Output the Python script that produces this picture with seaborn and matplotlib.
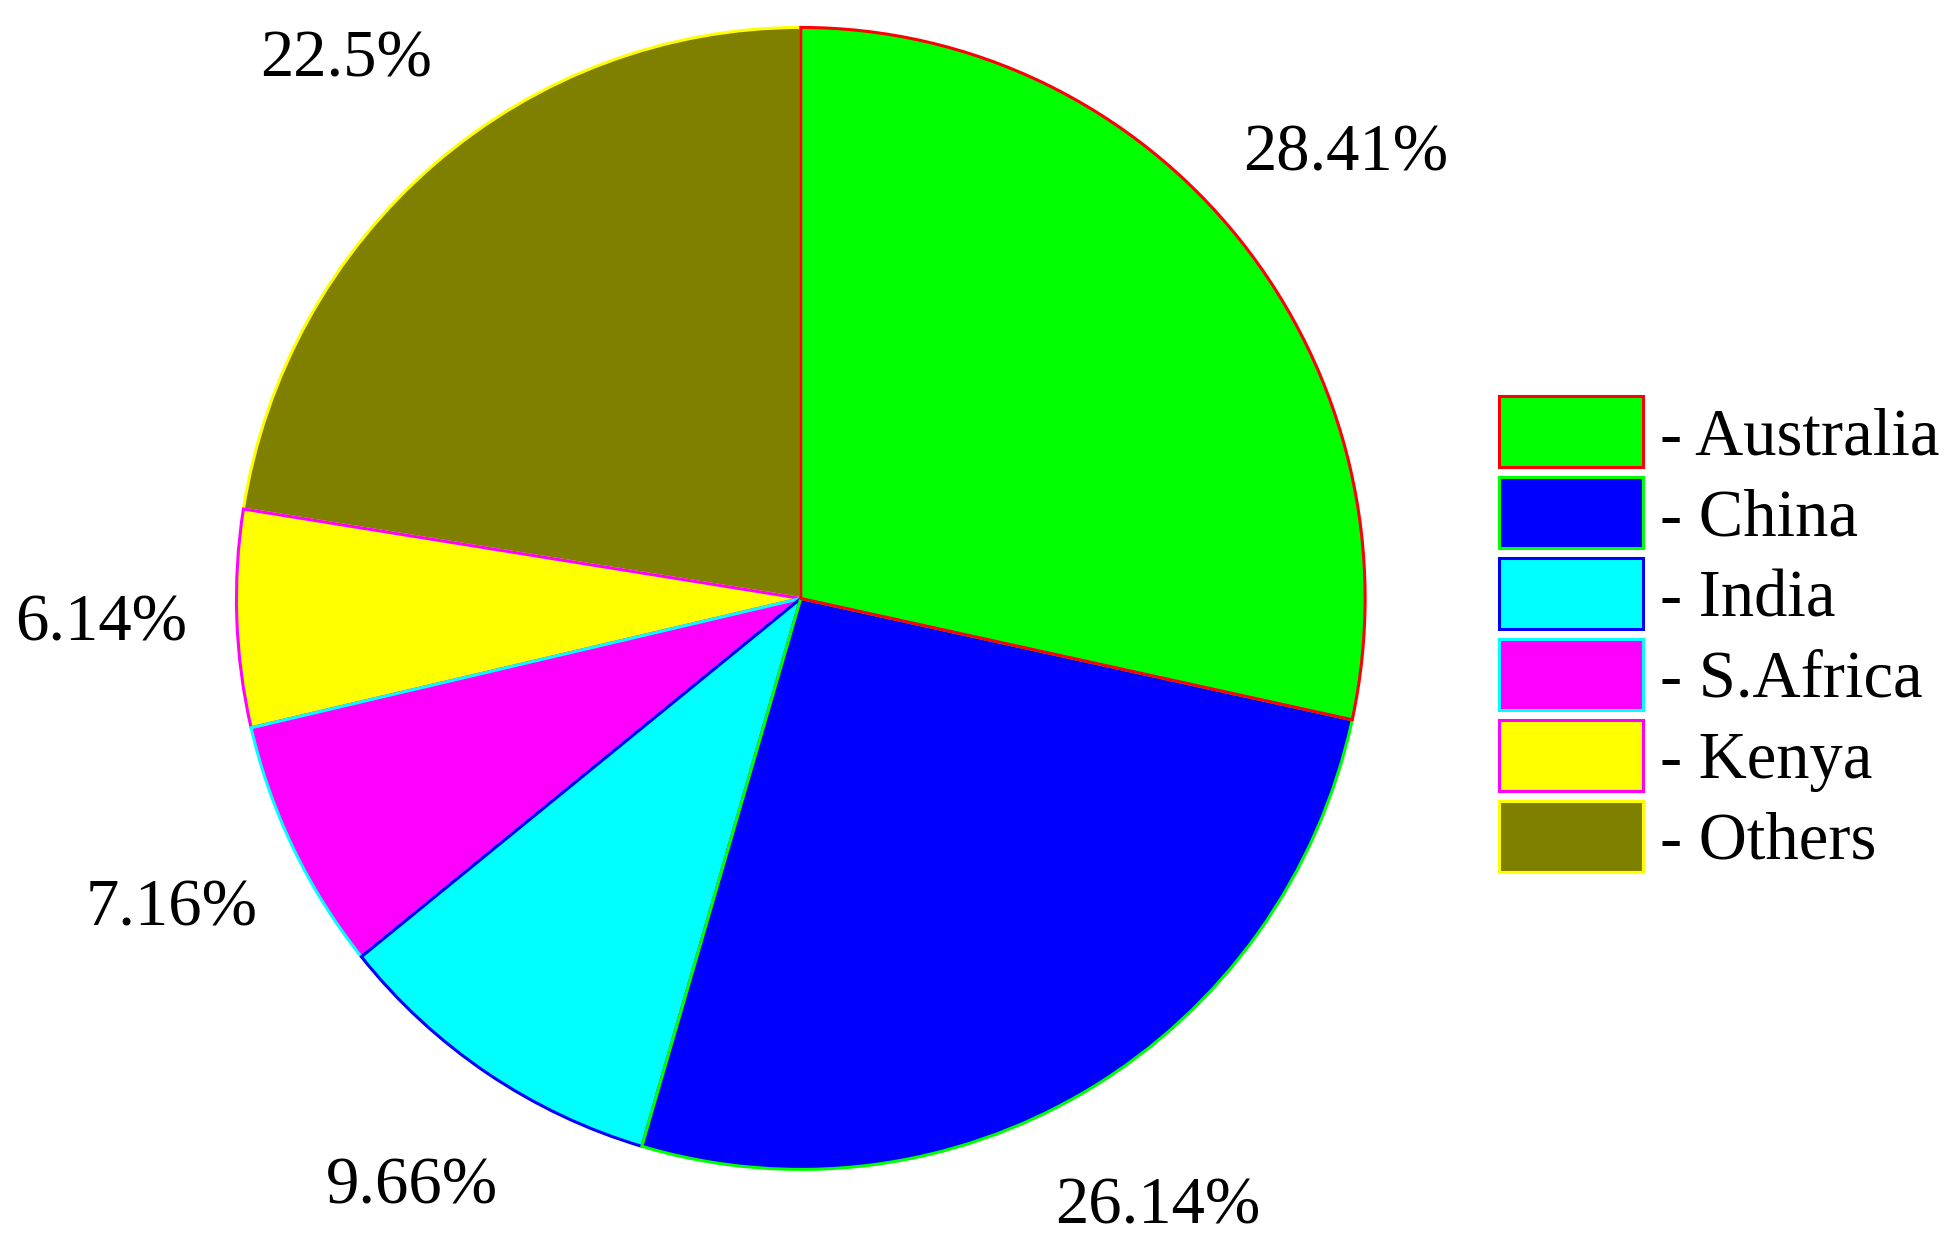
import matplotlib
matplotlib.use("Agg")
import matplotlib.pyplot as plt
import seaborn as sns

countries = ['Australia', 'China', 'India', 'S.Africa', 'Kenya', 'Others']
shares = [28.41, 26.14, 9.66, 7.16, 6.14, 22.5]
face_cols = ['#00ff00', '#0000ff', '#00ffff', '#ff00ff', '#ffff00', '#808000']
edge_cols = ['#ff0000', '#00ff00', '#0000ff', '#00ffff', '#ff00ff', '#ffff00']

sns.set_theme(style="white")
plt.rcParams['font.family'] = ['Liberation Serif', 'DejaVu Serif']
plt.rcParams['text.color'] = 'black'

fig = plt.figure(figsize=(9.755, 6.265), dpi=200)
# pie is a little taller than wide in the original
ax = fig.add_axes([0.1212, 0.0667, 0.5785, 0.9114])

wedges, texts, autotexts = ax.pie(shares, colors=face_cols, startangle=90,
                                  counterclock=False, autopct='%1.1f%%',
                                  pctdistance=1.24,
                                  wedgeprops=dict(linewidth=1.1),
                                  textprops=dict(fontsize=24, color='black'))
# earlier slices sit on top of later ones
for i, w in enumerate(wedges):
    w.set_edgecolor(edge_cols[i])
    w.set_zorder(10 - i)
for t, v in zip(autotexts, shares):
    t.set_text(f"{v:g}%")

ax.set_xlim(-1, 1)
ax.set_ylim(-1, 1)
ax.set_aspect('auto')
ax.axis('off')

leg = fig.legend(wedges, [f"- {c}" for c in countries], loc='center left',
                 bbox_to_anchor=(0.7683, 0.4936), frameon=False, fontsize=24,
                 handlelength=2.16, handleheight=1.26, handletextpad=0.25,
                 labelspacing=0.135, borderpad=0, borderaxespad=0)
for t in leg.get_texts():
    t.set_color('black')

fig.savefig("out.png", dpi=200, facecolor='white')
